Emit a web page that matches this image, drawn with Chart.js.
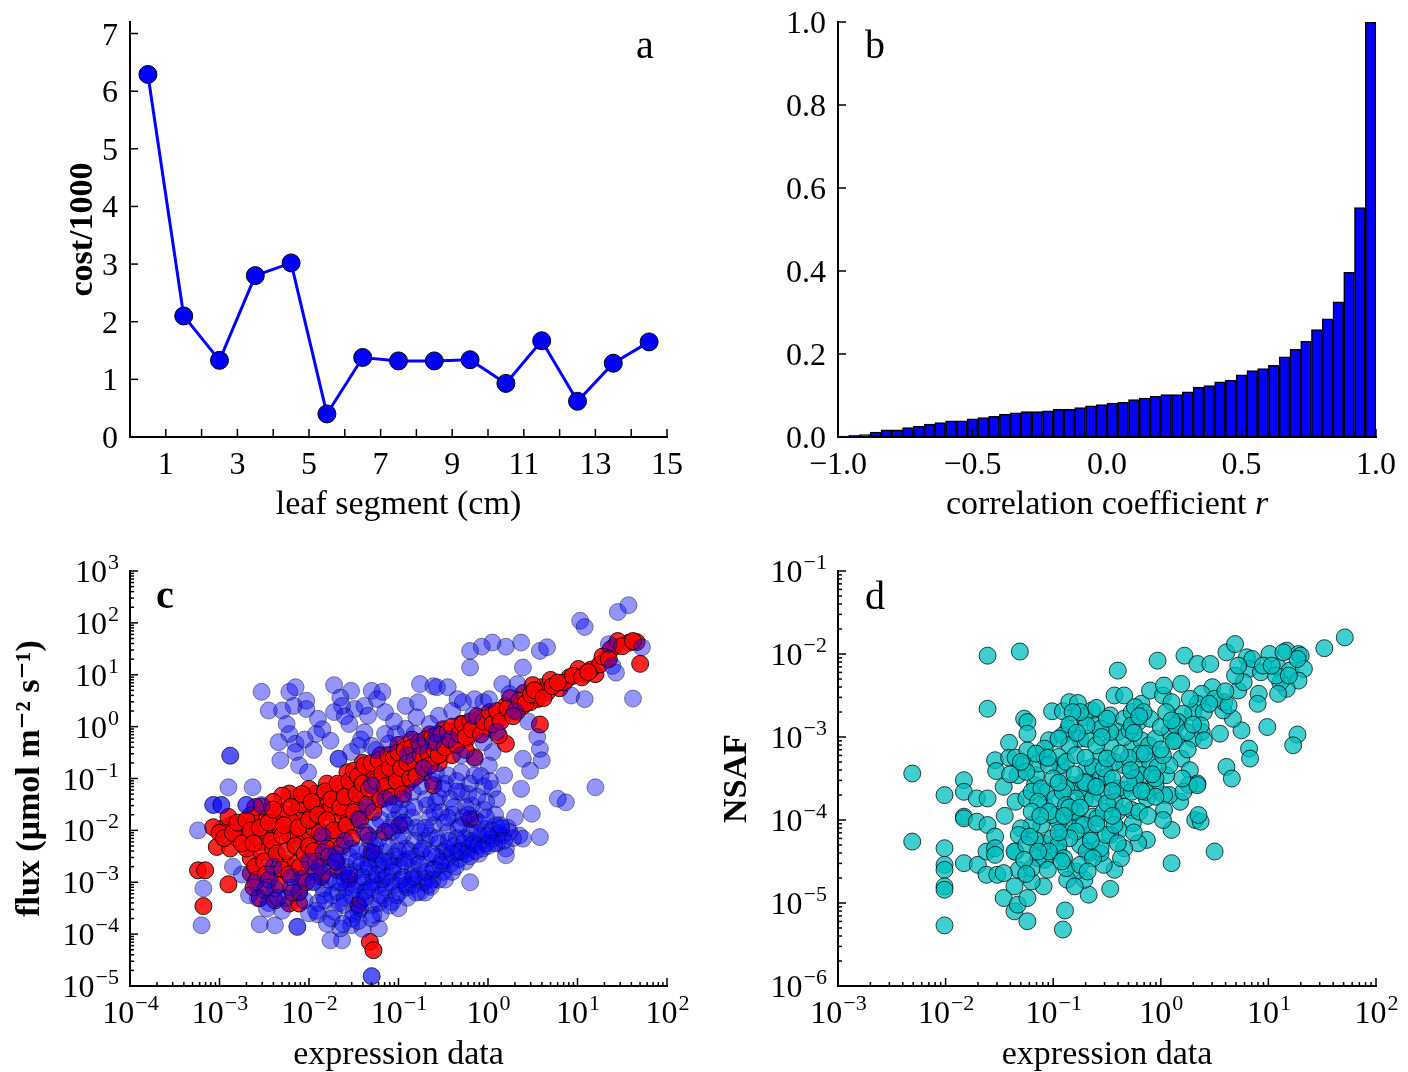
<!DOCTYPE html>
<html>
<head>
<meta charset="utf-8">
<title>Leaf segment cost, correlation and flux panels</title>
<script src="https://cdn.jsdelivr.net/npm/chart.js@4.4.1/dist/chart.umd.min.js"></script>
<style>
  body { margin: 0; background: #fff; }
  #fig { position: relative; width: 1408px; height: 1072px; }
  #fig canvas { position: absolute; }
</style>
</head>
<body>
<div id="fig">
  <canvas id="chart-a" width="704" height="536" style="left:0;top:0"></canvas>
  <canvas id="chart-b" width="704" height="536" style="left:704px;top:0"></canvas>
  <canvas id="chart-c" width="704" height="536" style="left:0;top:536px"></canvas>
  <canvas id="chart-d" width="704" height="536" style="left:704px;top:536px"></canvas>
</div>
<script>
// ---- data ----

// (a) cost per leaf segment
const segments = [0.5, 1.5, 2.5, 3.5, 4.5, 5.5, 6.5, 7.5, 8.5, 9.5, 10.5, 11.5, 12.5, 13.5, 14.5];
const costPer1000 = [6.29, 2.10, 1.33, 2.80, 3.02, 0.40, 1.38, 1.32, 1.32, 1.34, 0.93, 1.67, 0.62, 1.28, 1.65];

// (b) histogram of correlation coefficients (bin centres, bin width 0.04)
const rBins = [-0.98, -0.94, -0.90, -0.86, -0.82, -0.78, -0.74, -0.70, -0.66, -0.62,
               -0.58, -0.54, -0.50, -0.46, -0.42, -0.38, -0.34, -0.30, -0.26, -0.22,
               -0.18, -0.14, -0.10, -0.06, -0.02, 0.02, 0.06, 0.10, 0.14, 0.18,
               0.22, 0.26, 0.30, 0.34, 0.38, 0.42, 0.46, 0.50, 0.54, 0.58,
               0.62, 0.66, 0.70, 0.74, 0.78, 0.82, 0.86, 0.90, 0.94, 0.98];
const rFreq = [0.002, 0.004, 0.006, 0.012, 0.017, 0.017, 0.023, 0.026, 0.031, 0.035,
               0.039, 0.039, 0.044, 0.047, 0.050, 0.055, 0.058, 0.061, 0.061, 0.063,
               0.067, 0.067, 0.071, 0.075, 0.078, 0.082, 0.084, 0.090, 0.094, 0.098,
               0.102, 0.102, 0.109, 0.120, 0.124, 0.133, 0.137, 0.150, 0.160, 0.165,
               0.173, 0.193, 0.211, 0.231, 0.259, 0.285, 0.326, 0.397, 0.553, 1.0];

const fluxAllLog = [
  [1.57,2.34],[1.45,2.21],[1.03,2.04],[1.08,1.92],[1.35,1.59],[1.72,1.53],[1.62,0.54],[1.39,1.17],[1.43,1.04],
  [0.93,0.60],[1.08,0.53],[1.20,-1.17],[0.78,-1.39],[0.87,-1.46],[0.58,-2.13],[0.58,-0.43],[0.60,-0.65],
  [0.39,-0.62],[0.47,-0.85],[0.37,-1.20],[0.49,-1.68],[0.18,-0.94],[0.05,-1.20],[0.20,-2.35],[0.20,-2.48],
  [0.35,-2.10],[-0.20,-3.0],[0.37,1.62],[0.20,1.54],[0.05,1.62],[-0.07,1.54],[-0.20,1.46],[-0.20,1.14],
  [0.58,1.46],[0.66,1.53],[0.39,1.14],[0.16,0.82],[0.33,0.82],[0.24,0.63],
  [-2.53,0.67],[-2.22,0.67],[-2.15,0.76],[-2.45,0.31],[-2.30,0.31],[-2.17,0.40],[-2.03,0.50],[-2.03,0.34],
  [-1.72,0.80],[-1.53,0.69],[-1.65,0.56],[-1.63,0.40],[-1.72,0.28],[-1.49,0.34],[-1.38,0.40],[-1.30,0.69],
  [-1.18,0.67],[-1.24,0.53],[-1.34,0.21],[-1.15,0.28],[-0.92,0.40],[-0.78,0.47],[-0.76,0.82],[-0.61,0.78],
  [-0.57,0.76],[-0.45,0.76],[-0.55,0.21],[-0.34,0.53],[-0.28,0.47],[-0.15,0.53],[-0.05,0.47],[0.01,0.53],
  [-0.17,0.21],[-0.80,0.18],[-0.92,-0.04],[-0.82,-0.14],[-1.03,-0.14],[-1.15,-0.14],[-1.38,-0.11],
  [-1.92,-0.14],[-1.76,-0.27],[-2.22,-0.14],[-2.34,-0.30],[-2.15,-0.33],[-2.32,-0.65],[-2.15,-0.49],
  [-2.11,-0.75],[-2.01,-0.88],[-2.88,-0.56],[-2.88,-0.56],[-1.67,-0.62],[-1.67,-0.62],[-1.53,-0.49],
  [-1.45,-0.37],[-1.30,-0.37],[-1.11,-0.33],[-0.61,-0.30],[-0.76,-0.37],[-0.43,-0.24],[-0.57,-0.14],
  [-2.90,-1.17],[-2.63,-1.17],[-3.07,-1.51],[-3.07,-1.51],[-2.98,-1.51],[-2.98,-1.51],[-2.70,-1.51],
  [-2.70,-1.51],[-2.53,-1.51],[-3.24,-2.0],[-3.18,-3.12],[-3.20,-3.83],[-2.55,-3.81],[-2.38,-3.83],
  [-2.13,-3.86],[-2.13,-3.86],[-1.90,-3.62],[-1.76,-4.12],[-1.63,-4.12],[-1.65,-3.89],[-1.53,-3.83],
  [-1.30,-4.81],[-1.30,-4.81],[-1.22,-3.89],[-1.28,-3.63],[-2.67,-3.25],[-2.47,-3.51],
  [-1.84,-2.42],[-1.68,-2.54],[-1.53,-2.35],[-1.49,-2.80],[-1.34,-2.54],[-1.30,-2.87],[-1.22,-2.67],
  [-1.15,-2.42],[-1.07,-2.80],[-0.99,-2.54],[-0.92,-2.35],[-0.84,-2.74],[-1.22,-3.06],[-1.38,-3.19],
  [-1.53,-3.25],[-1.68,-3.19],[-1.84,-3.12],[-1.95,-2.99],[-1.61,-3.44],[-1.45,-3.57],[-1.30,-3.44],
  [-1.15,-3.31],[-0.99,-3.19],[-0.84,-3.06],[-0.68,-2.93],[-0.61,-2.74],[-0.53,-2.67],[-0.45,-2.54],
  [-0.34,-2.42],[-0.22,-2.35],[-0.11,-2.29],[0.05,-2.16],[0.16,-2.10],[-0.64,-3.09],[-0.76,-3.19],
  [-1.07,-3.38],[-1.72,-3.57],[-2.11,-3.19],[-2.07,-2.93],[-2.26,-3.31],[-2.38,-3.12],[-2.57,-3.31],
  [-1.84,-3.25],[-1.92,-2.80],
  [-1.30,-1.13],[-1.15,-1.39],[-0.99,-1.65],[-0.84,-1.26],[-0.68,-1.52],[-0.53,-1.65],[-0.42,-1.39],
  [-0.30,-1.26],[-0.18,-1.52],[-0.15,-1.78],[-0.30,-1.90],[-0.45,-2.03],[-0.61,-1.90],[-0.76,-2.03],
  [-0.92,-1.90],[-1.07,-2.03],[-1.22,-2.16],[-1.38,-2.03],[-1.45,-1.78],[-0.03,-1.97],[0.09,-1.90],
  [0.24,-2.03],[0.39,-2.16],[-0.15,-0.94],[-0.30,-0.88],[0.05,-0.49],[0.01,-0.75],[-0.15,-0.62],[-0.45,-0.94],
  [-1.76,-2.70],[-1.60,-2.95],[-1.42,-2.65],[-1.26,-2.30],[-1.10,-2.60],[-0.95,-2.90],[-0.80,-2.50],
  [-0.70,-2.20],[-1.00,-2.20],[-1.18,-2.95],[-1.40,-3.00],[-1.58,-2.70],[-1.70,-3.00],[-1.90,-3.40],
  [-1.50,-3.60],[-1.20,-3.60],[-1.00,-3.50],[-0.90,-3.30],[-0.70,-3.20],[-0.55,-2.95],[-0.40,-2.80],
  [-0.25,-2.60],[-0.10,-2.45],[0.00,-2.30],[0.10,-2.25],[-0.50,-2.40],[-0.35,-2.15],[-0.20,-2.05],
  [-0.85,-1.75],[-1.05,-1.80],[-1.25,-1.90],[-0.65,-1.75],[-0.40,-1.70],[-0.25,-1.55],[-0.55,-1.35],
  [-0.75,-1.15],[-0.95,-1.40],[-1.10,-1.60],[-1.35,-2.40],[-1.60,-2.20],[-1.85,-2.10],[-2.00,-2.60],
  [-2.20,-2.90],[-2.40,-2.70],[-2.45,-3.40],[-2.30,-3.55],[-2.00,-3.60],[-1.80,-3.80],[-1.40,-3.90],
  [-0.05,-1.60],[0.10,-1.40],[0.30,-1.75],[-0.05,-1.15],
  [-1.95,-3.00],[-1.88,-2.70],[-1.82,-3.35],[-1.78,-2.95],[-1.74,-3.25],[-1.70,-2.45],[-1.66,-3.40],
  [-1.62,-2.80],[-1.58,-3.10],[-1.55,-2.50],[-1.52,-3.70],[-1.48,-3.05],[-1.45,-2.40],[-1.42,-3.35],
  [-1.38,-2.75],[-1.35,-3.15],[-1.32,-2.20],[-1.28,-3.00],[-1.25,-2.55],[-1.22,-3.40],[-1.18,-2.75],
  [-1.15,-3.10],[-1.12,-2.30],[-1.08,-3.00],[-1.05,-2.50],[-1.02,-3.25],[-0.98,-2.70],[-0.95,-2.10],
  [-0.92,-3.05],[-0.88,-2.55],[-0.85,-2.95],[-0.82,-2.20],[-0.78,-2.85],[-0.75,-2.40],[-0.72,-3.00],
  [-0.68,-2.55],[-0.65,-2.10],[-0.62,-2.95],[-0.58,-2.50],[-0.55,-2.25],[-0.50,-2.80],[-0.46,-2.35],
  [-0.42,-2.65],[-0.38,-2.30],[-0.32,-2.55],[-0.28,-2.25],[-0.24,-2.45],[-0.18,-2.20],[-0.14,-2.40],
  [-0.08,-2.10],[-0.02,-2.25],[0.04,-2.00],[0.12,-2.05],[0.22,-1.95],[0.28,-2.15],
  [-1.35,-1.55],[-1.20,-1.80],[-1.05,-1.50],[-0.90,-1.60],[-0.80,-1.95],[-0.70,-1.40],[-0.60,-1.65],
  [-0.48,-1.85],[-0.38,-1.55],[-0.28,-1.75],[-0.22,-1.30],[-0.10,-1.85],[-0.02,-1.45],[0.08,-1.70],
  [0.15,-1.95],[-0.62,-1.05],[-0.48,-1.10],[-0.35,-1.05],[-0.20,-1.10],[-0.08,-0.95],[0.02,-1.05],
  [-0.72,-0.80],[-0.58,-0.90],
  [-2.20,-3.10],[-2.05,-3.35],[-1.92,-3.55],[-1.75,-3.70],[-1.62,-3.80],[-1.45,-3.75],[-1.30,-3.70],
  [-2.35,-3.30],[-2.50,-3.15],[-2.60,-3.00],[-2.75,-2.85],[-2.85,-2.70],[-2.45,-2.95],
  [-2.05,-0.25],[-1.95,-0.45],[-1.85,-0.05],[-1.55,0.05],[-1.42,-0.25],[-1.25,-0.45],[-1.05,0.10],
  [-0.90,-0.55],[-0.65,0.05],[-0.40,0.30],[-0.30,-0.55],[-0.05,-0.30],[0.10,-0.10],[0.30,0.30],
  [0.45,0.10],[0.55,-0.20],[-1.60,0.20],[-1.90,0.15],[-2.25,0.05],
  [-1.70,-2.60],[-1.65,-3.00],[-1.60,-3.30],[-1.55,-2.85],[-1.50,-3.15],[-1.47,-2.60],[-1.43,-3.50],
  [-1.40,-2.90],[-1.37,-3.30],[-1.33,-2.70],[-1.30,-3.10],[-1.27,-2.45],[-1.24,-2.85],[-1.20,-3.25],
  [-1.17,-2.60],[-1.13,-2.90],[-1.10,-3.45],[-1.06,-2.70],[-1.03,-3.05],[-1.00,-2.40],[-0.97,-2.95],
  [-0.93,-2.60],[-0.90,-3.10],[-0.87,-2.40],[-0.83,-2.90],[-0.80,-3.20],[-0.77,-2.65],[-0.73,-2.35],
  [-0.70,-2.80],[-0.66,-3.05],[-0.63,-2.45],[-0.60,-2.75],[-0.57,-2.15],[-0.52,-2.60],[-0.48,-2.95],
  [-0.44,-2.20],[-0.40,-2.45],[-0.36,-2.70],[-0.30,-2.40],[-0.26,-2.15],[-0.20,-2.50],[-0.16,-2.25],
  [-0.12,-2.05],[-0.06,-2.35],[0.00,-2.10],[0.07,-2.25],[0.14,-1.90],[0.18,-2.20],
  [-1.10,-1.95],[-0.95,-1.85],[-0.82,-1.55],[-0.70,-1.95],[-0.58,-1.45],[-0.45,-1.75],[-0.33,-1.95],
  [-0.22,-1.70],[-0.12,-1.35],[-0.02,-1.75],[-0.35,-1.25],[-0.50,-1.20]
];
const fluxFitLog = [
  [1.66,1.63],[1.58,1.62],[1.41,1.54],[1.37,1.49],[1.33,1.33],[1.70,1.21],[1.20,1.01],[1.08,1.01],[1.01,1.11],
  [0.91,0.95],[0.80,0.74],[0.66,0.66],[0.60,0.76],[0.55,0.53],[0.47,0.47],[0.39,0.40],[0.32,0.28],[0.20,0.40],
  [0.16,0.18],[0.58,0.04],[0.08,0.08],[0.01,-0.04],[-0.07,0.02],[-0.15,-0.11],[0.20,-0.33],[0.12,-0.17],
  [-0.24,-0.24],[-0.34,-0.27],[-0.15,-0.59],[-0.38,-0.08],[-0.45,-0.37],[-0.53,-0.53],[-0.61,-0.43],
  [-0.68,-0.40],[-0.72,-0.62],[-0.76,-0.75],[-0.84,-0.49],[-0.92,-0.88],[-0.95,-0.62],[-1.03,-0.49],
  [-1.07,-0.75],[-1.15,-0.65],[-1.22,-0.88],[-1.30,-1.01],[-1.34,-0.81],[-1.42,-1.20],[-1.49,-1.01],
  [-1.57,-0.88],[-1.65,-1.13],[-1.68,-1.39],[-1.76,-1.26],[-1.84,-1.46],[-1.92,-1.29],[-2.00,-1.20],
  [-2.07,-1.39],[-2.15,-1.35],[-2.22,-1.29],[-2.30,-1.33],[-1.07,-1.07],[-0.99,-1.20],[-0.84,-1.01],
  [-0.61,-1.13],[-0.72,-0.88],[-1.22,-1.26],[-1.49,-1.52],[-1.61,-1.65],[-1.68,-1.84],[-1.76,-2.03],
  [-1.84,-1.65],[-1.92,-1.90],[-2.00,-1.65],[-2.07,-1.84],[-2.15,-1.65],[-2.22,-1.78],[-2.30,-1.65],
  [-2.38,-1.84],[-2.45,-1.65],[-2.53,-1.78],[-2.61,-1.90],[-2.68,-2.10],[-2.76,-1.97],[-2.88,-1.90],
  [-2.97,-1.97],[-3.07,-1.94],[-3.03,-2.32],[-2.88,-2.35],[-2.53,-2.22],[-2.45,-2.03],[-2.34,-1.97],
  [-2.22,-2.10],[-2.15,-2.10],[-2.07,-2.22],[-2.00,-2.03],[-1.88,-2.22],[-1.72,-2.19],[-1.61,-2.00],
  [-1.49,-1.90],[-1.34,-2.10],[-1.15,-2.03],[-0.99,-1.90],[-0.20,-1.78],[-1.30,-2.42],[-2.65,-2.54],
  [-2.53,-2.42],[-2.38,-2.54],[-2.26,-2.64],[-2.15,-2.64],[-2.00,-2.54],[-1.84,-2.54],[-1.68,-2.77],
  [-2.65,-2.83],[-2.42,-2.86],[-2.11,-2.93],[-1.86,-2.90],[-1.55,-2.93],[-2.90,-3.04],[-2.55,-3.31],
  [-2.38,-3.35],[-2.22,-3.41],[-2.11,-3.41],[-2.11,-3.19],[-1.45,-3.44],[-3.24,-2.77],[-3.16,-2.77],
  [-3.18,-3.46],[-1.32,-4.15],[-1.28,-4.31],[-2.53,-1.54],[-2.90,-1.74],[-2.65,-1.71],
  [-1.40,-0.70],[-1.20,-0.55],[-1.00,-0.35],[-0.85,-0.25],[-0.65,-0.15],[-0.50,-0.05],[-0.30,0.05],
  [-0.10,0.15],[0.05,0.25],[0.25,0.55],[0.40,0.65],[0.50,0.80],[0.70,0.90],[0.85,0.85],[1.15,1.10],
  [1.25,1.20],[1.45,1.65],[-0.55,-0.70],[-0.40,-0.55],[-0.25,-0.45],[-0.90,-1.10],[-1.10,-1.25],
  [-1.25,-1.45],[-1.40,-1.65],[-1.55,-1.75],[-1.75,-1.55],[-1.95,-1.55],[-2.10,-1.50],[-2.40,-1.45],
  [-2.60,-1.55],[-2.80,-2.15],[-2.70,-2.35],[-2.40,-2.35],[-2.30,-2.75],[-1.95,-2.75],[-1.80,-2.35],
  [-1.95,-1.95],[-2.50,-2.00],[-1.00,-0.95],[-0.80,-0.80],[-0.60,-0.60],[-1.30,-0.85],[-1.55,-1.25],
  [-1.80,-1.10],
  [-3.00,-2.05],[-2.95,-2.15],[-2.85,-2.05],[-2.80,-1.85],[-2.75,-2.25],[-2.70,-1.80],[-2.65,-2.00],
  [-2.62,-2.25],[-2.60,-2.70],[-2.58,-2.95],[-2.62,-3.10],[-2.55,-1.95],
  [-2.50,-2.60],[-2.48,-2.85],[-2.47,-3.10],[-2.45,-1.85],[-2.42,-2.20],[-2.40,-1.60],[-2.36,-2.45],
  [-2.33,-3.05],[-2.30,-2.10],[-2.28,-1.90],[-2.25,-2.40],[-2.22,-2.85],[-2.20,-1.55],[-2.18,-3.20],
  [-2.15,-2.30],[-2.12,-1.95],[-2.10,-2.70],[-2.08,-1.30],[-2.05,-2.45],[-2.03,-3.00],[-2.00,-1.80],
  [-2.00,-2.30],
  [-1.97,-1.45],[-1.95,-2.40],[-1.92,-2.60],[-1.90,-1.70],[-1.88,-2.05],[-1.85,-2.85],[-1.82,-1.25],
  [-1.80,-1.80],[-1.78,-2.50],[-1.75,-1.40],[-1.72,-2.00],[-1.70,-2.60],[-1.68,-1.10],[-1.65,-1.55],
  [-1.63,-2.30],[-1.60,-1.35],[-1.58,-1.90],[-1.55,-1.05],[-1.52,-2.15],[-1.50,-1.65],[-1.50,-0.85],
  [-1.47,-1.30],[-1.45,-0.95],[-1.43,-1.80],[-1.40,-1.10],[-1.38,-0.75],[-1.35,-1.50],[-1.33,-1.20],
  [-1.30,-0.70],[-1.28,-1.65],[-1.25,-1.05],[-1.22,-0.65],[-1.20,-1.40],[-1.18,-0.90],[-1.15,-1.15],
  [-1.12,-0.55],[-1.10,-0.80],[-1.08,-1.35],[-1.05,-0.60],[-1.02,-1.05],[-1.00,-0.50],
  [-0.97,-0.80],[-0.95,-1.30],[-0.93,-0.45],[-0.90,-0.70],[-0.87,-1.00],[-0.85,-0.40],[-0.82,-0.65],
  [-0.80,-0.95],[-0.77,-0.30],[-0.75,-0.55],[-0.72,-0.80],[-0.70,-0.25],[-0.67,-0.50],[-0.65,-0.75],
  [-0.62,-0.20],[-0.60,-0.45],[-0.57,-0.30],[-0.55,-0.55],[-0.52,-0.15],
  [-0.48,-0.40],[-0.45,-0.10],[-0.42,-0.25],[-0.40,0.00],[-0.35,-0.35],[-0.32,-0.15],[-0.28,0.05],
  [-0.25,-0.20],[-0.20,0.10],[-0.18,-0.05],[-0.12,0.20],[-0.08,-0.15],[-0.05,0.10],[0.02,0.28],
  [0.05,0.05],[0.10,0.30],[0.14,0.10],[0.22,0.35],[0.28,0.20],[0.35,0.50],[0.42,0.45],[0.48,0.62],
  [0.52,0.70],[0.62,0.55],[0.72,0.78],[0.78,0.85],[0.95,0.98],[1.05,0.95],[1.12,1.05],[1.28,1.35],
  [1.35,1.30],[1.50,1.55],[1.62,1.65]
];

const nsafLog = [
  [-1.61,-2.02],[-1.31,-1.97],[-1.61,-2.66],[-2.31,-3.44],[-2.31,-4.26],[-2.01,-3.70],[-2.01,-4.34],
  [-2.01,-4.54],[-2.01,-4.60],[-2.01,-4.80],[-2.01,-4.84],[-2.01,-5.27],[-1.83,-3.52],[-1.83,-3.66],
  [-1.83,-3.96],[-1.83,-3.98],[-1.83,-4.52],[-1.71,-3.74],[-1.71,-4.02],[-1.70,-4.54],[-1.61,-3.74],
  [-1.61,-4.06],[-1.62,-4.38],[-1.54,-4.20],[-1.54,-4.34],[-1.54,-4.42],[-1.62,-4.66],[-1.52,-4.66],
  [-1.46,-4.94],[-1.36,-4.80],[-1.36,-5.10],[-1.33,-5.02],[-1.24,-5.22],[-1.24,-4.94],[-0.89,-5.09],
  [-0.91,-5.32],[-0.67,-4.90],[-0.47,-4.83],[-1.09,-4.80],[-1.20,-4.74],[-1.32,-4.60],[-1.46,-4.64],
  [-1.35,-4.38],[-1.54,-3.28],[-1.53,-3.41],[-1.41,-3.07],[-1.41,-3.25],[-1.46,-3.60],[-1.35,-3.25],
  [-1.27,-3.32],[-1.24,-3.16],[-1.33,-3.46],[-1.35,-3.78],[-1.25,-3.74],[-1.17,-3.58],[-1.16,-3.46],
  [-1.14,-3.32],[-1.08,-3.24],[-1.04,-3.04],[-1.27,-2.78],[-1.24,-2.82],[-1.24,-2.96],[-1.01,-2.69],
  [-0.91,-2.69],[-0.85,-2.58],[-0.77,-2.59],[-0.64,-2.68],[-0.71,-2.76],[-0.86,-2.90],[-0.91,-2.98],
  [-0.75,-3.02],[-0.69,-3.02],[-0.61,-2.86],[-0.56,-3.24],[-0.47,-2.74],[-0.43,-2.50],[-0.34,-2.50],
  [-0.40,-2.20],[-0.34,-2.78],[-0.40,-2.94],[-0.27,-2.70],[-0.21,-2.82],[-0.18,-2.60],[-0.10,-2.78],
  [-0.03,-2.08],[-0.10,-2.44],[0.02,-2.50],[0.03,-2.38],[0.10,-2.58],[0.08,-2.94],[0.14,-3.04],
  [0.19,-2.36],[0.22,-2.02],[0.34,-2.12],[0.46,-2.12],[0.61,-1.98],[0.69,-1.88],[0.80,-2.04],
  [0.82,-2.18],[0.85,-2.06],[0.93,-2.22],[1.01,-2.00],[1.09,-2.16],[1.17,-1.96],[1.20,-2.20],
  [1.28,-2.00],[1.30,-2.02],[1.33,-2.18],[1.28,-2.32],[1.17,-2.42],[1.11,-2.34],[1.09,-2.48],
  [1.52,-1.93],[1.71,-1.80],[0.91,-2.48],[0.90,-2.60],[0.99,-2.88],[1.27,-2.97],[1.23,-3.10],
  [0.82,-3.14],[0.83,-3.26],[0.61,-3.36],[0.66,-3.50],[0.55,-2.96],[0.75,-2.92],[0.67,-2.78],
  [0.58,-2.68],[0.59,-2.58],[0.48,-2.40],[0.38,-2.48],[0.34,-2.60],[0.30,-2.70],[0.40,-2.70],
  [0.38,-2.94],[0.37,-2.86],[0.30,-3.02],[0.40,-3.04],[0.27,-2.54],[0.21,-2.72],[0.16,-2.82],
  [0.19,-3.26],[0.27,-3.40],[0.34,-3.56],[0.26,-3.58],[0.18,-3.78],[0.08,-3.70],[0.03,-3.70],
  [0.03,-3.88],[0.10,-4.12],[0.10,-4.52],[0.32,-4.00],[0.37,-4.02],[0.50,-4.38],[0.05,-3.46],
  [0.08,-3.34],[-0.05,-3.58],[-0.13,-3.74],[-0.13,-4.24],[-0.21,-4.28],[-0.27,-3.88],[-0.26,-4.04],
  [-0.34,-3.64],[-0.40,-3.90],[-0.39,-4.12],[-0.47,-4.18],[-0.43,-4.60],[-0.53,-4.54],[-0.56,-4.40],
  [-0.67,-4.40],[-0.71,-4.72],[-0.79,-4.62],[-0.87,-4.72],[-0.88,-4.58],[-0.95,-4.38],[-0.98,-4.36],
  [-1.08,-4.48],[-1.14,-4.46],[-1.20,-4.58],[-1.09,-4.28],[-1.11,-4.06],[-1.20,-4.06],[-1.30,-4.10],
  [-1.32,-4.18],[-1.36,-4.38],[-1.17,-4.24],[-1.01,-4.22],[-0.91,-4.14],[-0.85,-4.06],[-0.75,-4.06],
  [-0.66,-4.18],[-0.63,-3.96],[-0.59,-3.98],[-0.71,-3.76],[-0.75,-3.62],[-0.82,-3.58],[-0.88,-3.62],
  [-0.91,-3.42],[-0.93,-3.34],[-0.85,-3.10],[-0.95,-3.24],[-0.88,-3.30],[-0.79,-3.22],[-0.69,-3.38],
  [-0.63,-3.36],[-0.56,-3.50],[-0.50,-3.48],[-0.40,-3.62],[-0.34,-3.34],[-0.43,-3.30],[-0.47,-3.10],
  [-0.27,-3.14],[-0.34,-3.00],[-0.18,-3.04],[-0.21,-3.34],[-0.10,-3.30],[-0.11,-3.10],[-0.05,-3.02],
  [0.00,-2.88],[-0.18,-3.46],[-0.24,-3.58],[-0.43,-3.78],[-0.56,-3.68],[-0.63,-3.74],[-0.64,-3.58],
  [-0.72,-3.54],[-0.79,-3.74],[-0.83,-3.90],[-0.95,-4.02],[-1.01,-3.94],[-1.08,-3.82],[-1.06,-3.66],
  [-0.98,-3.74],[-0.91,-3.66],[-0.53,-3.38],[-0.50,-3.26],[-0.34,-3.84],[-0.53,-3.90],[-0.75,-4.30],
  [-0.69,-4.38],[-0.56,-4.34],[-0.34,-4.34],[-0.37,-4.46],[-0.27,-3.66],[-0.14,-3.66],[-0.05,-3.72],
  [-0.03,-3.36],[0.02,-3.22],[-0.19,-3.20],[-0.29,-2.92],[-0.24,-2.64],[-0.16,-2.70],[-0.27,-2.86],
  [-0.47,-2.94],[-0.56,-2.90],[-0.69,-2.86],[-0.75,-2.70],[-0.82,-2.70],[-0.95,-3.02],[-1.08,-3.14],
  [-1.20,-3.66],[-1.25,-3.42],[-1.30,-3.30],[-1.16,-3.20],[-1.04,-3.34],[-1.11,-3.62],[-1.14,-3.78],
  [-1.04,-3.90],[-0.88,-3.82],[-0.79,-3.90],[-0.72,-4.06],[-0.79,-4.14],[-0.85,-4.22],[-0.95,-4.30],
  [-1.04,-4.38],[-1.25,-4.30],[-1.14,-4.38],[-1.27,-4.48],[-0.90,-4.46],[-0.75,-4.54],[-0.63,-4.46],
  [-0.51,-4.18],[-0.43,-4.06],[-0.24,-3.50],[-0.05,-3.50],[0.21,-3.66],[0.35,-3.94],[0.34,-3.58],
  [0.14,-2.86],[0.24,-2.94],[0.50,-2.54],[0.63,-2.62],[0.72,-2.44],[0.77,-2.34],[0.69,-2.26],
  [0.72,-2.14],[0.95,-2.14],[1.07,-2.26],[1.19,-2.26],[1.27,-2.06],[1.14,-1.98],[1.03,-2.14],
  [-0.60,-3.10],[-0.45,-3.50],[-0.30,-3.25],[-0.15,-3.20],[-0.70,-3.55],[-0.85,-3.85],[-0.50,-3.80],
  [-0.30,-3.55],[-0.20,-3.90],[-1.00,-3.50],[-0.65,-4.25],[-0.95,-4.15],[-1.05,-4.60],[-0.40,-4.28],
  [0.00,-3.15],[0.12,-3.05],[0.25,-3.15],[-0.85,-2.85],[-0.60,-2.65],[-0.25,-2.95],[0.05,-2.70],
  [0.45,-2.60],[0.60,-2.45],[-1.40,-3.45],[-1.45,-3.95],[-1.20,-3.90],[-1.25,-4.65],[-0.80,-4.80],
  [-0.80,-3.45],[-0.70,-3.25],[-0.60,-3.60],[-0.55,-3.00],[-0.45,-3.65],[-0.38,-3.20],[-0.28,-3.40],
  [-0.18,-3.65],[-0.08,-3.45],[-0.90,-3.95],[-0.75,-3.85],[-0.60,-4.05],[-0.45,-3.95],[-0.25,-4.15],
  [-0.95,-3.55],[-1.05,-3.25],[-0.78,-2.95],[-0.50,-2.78],[-0.20,-2.75],[0.10,-2.80],[0.30,-2.85],
  [0.20,-3.50],[0.02,-4.00],[-0.12,-3.95],[-1.12,-3.95],[-1.22,-4.20],[-0.92,-4.50],[-0.68,-4.62]
];

// ---- helpers ----
const SERIF = '"Liberation Serif", "DejaVu Serif", serif';
const toPoints = pairs => pairs.map(([lx, ly]) => ({ x: Math.pow(10, lx), y: Math.pow(10, ly) }));
const isDecade = v => Math.abs(Math.log10(v) - Math.round(Math.log10(v))) < 1e-6;
const minus = s => s.replace('-', '\u2212');

// log axis: a tick at every 1..9 x 10^n, labels only on decades
function decadeTicks(scale) {
  const lo = Math.round(Math.log10(scale.min));
  const hi = Math.round(Math.log10(scale.max));
  const ticks = [];
  for (let e = lo; e < hi; e++) {
    for (let m = 1; m < 10; m++) ticks.push({ value: m * Math.pow(10, e) });
  }
  ticks.push({ value: Math.pow(10, hi) });
  scale.ticks = ticks;
}

function drawPower(ctx, x, y, exp, align) {
  const base = '10';
  const sup = exp < 0 ? '\u2212' + Math.abs(exp) : String(exp);
  ctx.font = '32px ' + SERIF;
  const wb = ctx.measureText(base).width;
  ctx.font = '22px ' + SERIF;
  const ws = ctx.measureText(sup).width;
  const x0 = align === 'center' ? x - (wb + ws) / 2 : x - wb - ws;
  ctx.textAlign = 'left';
  ctx.textBaseline = 'alphabetic';
  ctx.font = '32px ' + SERIF;
  ctx.fillText(base, x0, y);
  ctx.font = '22px ' + SERIF;
  ctx.fillText(sup, x0 + wb + 1, y - 13);
}

// per-panel label settings
const panelDeco = {
  'chart-a': { letter: 'a', lx: 645, ly: 47, bold: false,
               xFmt: v => (v % 2 === 1 ? String(v) : ''), yFmt: v => String(v) },
  'chart-b': { letter: 'b', lx: 171, ly: 47, bold: false,
               xFmt: v => minus(v.toFixed(1)), yFmt: v => v.toFixed(1),
               xTitle: ['correlation coefficient ', 'r'] },
  'chart-c': { letter: 'c', lx: 165, ly: 62, bold: true },
  'chart-d': { letter: 'd', lx: 171, ly: 62, bold: false }
};

// inward ticks, tick labels and panel letter
const axisDeco = {
  id: 'axisDeco',
  afterDatasetsDraw(chart) {
    const { ctx, chartArea: area } = chart;
    ctx.save();
    ctx.strokeStyle = '#000';
    ctx.lineWidth = 1.5;
    ['x', 'y'].forEach(id => {
      const s = chart.scales[id];
      s.ticks.forEach(t => {
        const p = s.getPixelForValue(t.value);
        const len = s.type === 'logarithmic' && !isDecade(t.value) ? 4 : 8;
        ctx.beginPath();
        if (id === 'x') { ctx.moveTo(p, area.bottom); ctx.lineTo(p, area.bottom - len); }
        else { ctx.moveTo(area.left, p); ctx.lineTo(area.left + len, p); }
        ctx.stroke();
      });
    });
    ctx.restore();
  },
  afterDraw(chart) {
    const { ctx, chartArea: area } = chart;
    const deco = panelDeco[chart.canvas.id];
    ctx.save();
    ctx.fillStyle = '#000';
    ['x', 'y'].forEach(id => {
      const s = chart.scales[id];
      const fmt = deco[id + 'Fmt'];
      s.ticks.forEach(t => {
        const p = s.getPixelForValue(t.value);
        if (s.type === 'logarithmic') {
          if (!isDecade(t.value)) return;
          const e = Math.round(Math.log10(t.value));
          if (id === 'x') drawPower(ctx, p, area.bottom + 37, e, 'center');
          else drawPower(ctx, area.left - 12, p + 11, e, 'right');
        } else {
          const txt = fmt(t.value);
          if (!txt) return;
          ctx.font = '32px ' + SERIF;
          ctx.textBaseline = 'alphabetic';
          if (id === 'x') { ctx.textAlign = 'center'; ctx.fillText(txt, p, area.bottom + 37); }
          else { ctx.textAlign = 'right'; ctx.fillText(txt, area.left - 12, p + 11); }
        }
      });
    });
    if (deco.xTitle) {
      const [plain, ital] = deco.xTitle;
      ctx.font = '34px ' + SERIF;
      const w1 = ctx.measureText(plain).width;
      ctx.font = 'italic 34px ' + SERIF;
      const w2 = ctx.measureText(ital).width;
      const x0 = (area.left + area.right) / 2 - (w1 + w2) / 2;
      ctx.textAlign = 'left';
      ctx.textBaseline = 'middle';
      ctx.font = '34px ' + SERIF;
      ctx.fillText(plain, x0, 505);
      ctx.font = 'italic 34px ' + SERIF;
      ctx.fillText(ital, x0 + w1, 505);
    }
    ctx.font = (deco.bold ? 'bold ' : '') + '40px ' + SERIF;
    ctx.textAlign = 'center';
    ctx.textBaseline = 'middle';
    ctx.fillText(deco.letter, deco.lx, deco.ly);
    ctx.restore();
  }
};

function axisTitle(text, bold, pad) {
  return {
    display: !!text, text: text || '', color: '#000',
    font: { family: SERIF, size: 34, weight: bold ? 'bold' : 'normal', lineHeight: 1 },
    padding: pad
  };
}

function baseOptions(area, xScale, yScale) {
  return {
    responsive: false,
    animation: false,
    events: [],
    devicePixelRatio: 1,
    layout: { padding: { top: area.top, right: area.right, left: 0, bottom: 0 } },
    plugins: { legend: { display: false }, tooltip: { enabled: false } },
    scales: {
      x: Object.assign({
        grid: { display: false },
        border: { color: '#000', width: 2 },
        ticks: { display: false, autoSkip: false },
        afterFit: s => { s.height = area.xh; }
      }, xScale),
      y: Object.assign({
        grid: { display: false },
        border: { color: '#000', width: 2 },
        ticks: { display: false, autoSkip: false },
        afterFit: s => { s.width = area.yw; }
      }, yScale)
    }
  };
}

// ---- (a) ----
new Chart(document.getElementById('chart-a'), {
  type: 'line',
  data: {
    datasets: [{
      data: segments.map((x, i) => ({ x: x, y: costPer1000[i] })),
      borderColor: '#0000ff',
      borderWidth: 3,
      pointRadius: 9,
      pointBackgroundColor: '#0000ff',
      pointBorderColor: '#000',
      pointBorderWidth: 1
    }]
  },
  options: baseOptions({ top: 22, right: 37, xh: 99, yw: 130 },
    { type: 'linear', min: 0, max: 15, ticks: { display: false, stepSize: 1, includeBounds: false },
      title: axisTitle('leaf segment (cm)', false, { bottom: 14 }) },
    { type: 'linear', min: 0, max: 7.2, ticks: { display: false, stepSize: 1, includeBounds: false },
      title: axisTitle('cost/1000', true, { top: 66 }) }),
  plugins: [axisDeco]
});

// ---- (b) ----
new Chart(document.getElementById('chart-b'), {
  type: 'bar',
  data: {
    datasets: [{
      data: rBins.map((x, i) => ({ x: x, y: rFreq[i] })),
      backgroundColor: '#0000ff',
      borderColor: '#000',
      borderWidth: 1.6,
      borderSkipped: false,
      barPercentage: 1,
      categoryPercentage: 1
    }]
  },
  options: baseOptions({ top: 22, right: 32, xh: 99, yw: 134 },
    { type: 'linear', min: -1, max: 1, offset: false,
      ticks: { display: false, stepSize: 0.5, includeBounds: false } },
    { type: 'linear', min: 0, max: 1, ticks: { display: false, stepSize: 0.2, includeBounds: false } }),
  plugins: [axisDeco]
});

// ---- (c) ----
new Chart(document.getElementById('chart-c'), {
  type: 'scatter',
  data: {
    datasets: [{
      data: toPoints(fluxAllLog),
      pointRadius: 8.5,
      backgroundColor: 'rgba(0,0,255,0.42)',
      borderColor: 'rgba(0,0,0,0.42)',
      borderWidth: 1
    }, {
      data: toPoints(fluxFitLog),
      pointRadius: 8.5,
      backgroundColor: 'rgba(255,0,0,0.85)',
      borderColor: 'rgba(0,0,0,0.85)',
      borderWidth: 1
    }]
  },
  options: baseOptions({ top: 35, right: 37, xh: 86, yw: 130 },
    { type: 'logarithmic', min: 1e-4, max: 1e2, afterBuildTicks: decadeTicks,
      title: axisTitle('expression data', false, { bottom: 0 }) },
    { type: 'logarithmic', min: 1e-5, max: 1e3, afterBuildTicks: decadeTicks,
      title: axisTitle('flux (\u03bcmol m\u207b\u00b2 s\u207b\u00b9)', true, { top: 13 }) }),
  plugins: [axisDeco]
});

// ---- (d) ----
new Chart(document.getElementById('chart-d'), {
  type: 'scatter',
  data: {
    datasets: [{
      data: toPoints(nsafLog),
      pointRadius: 8.5,
      backgroundColor: 'rgba(0,191,191,0.75)',
      borderColor: 'rgba(0,0,0,0.75)',
      borderWidth: 1
    }]
  },
  options: baseOptions({ top: 35, right: 32, xh: 86, yw: 134 },
    { type: 'logarithmic', min: 1e-3, max: 1e2, afterBuildTicks: decadeTicks,
      title: axisTitle('expression data', false, { bottom: 0 }) },
    { type: 'logarithmic', min: 1e-6, max: 1e-1, afterBuildTicks: decadeTicks,
      title: axisTitle('NSAF', true, { top: 16 }) }),
  plugins: [axisDeco]
});
</script>
</body>
</html>
